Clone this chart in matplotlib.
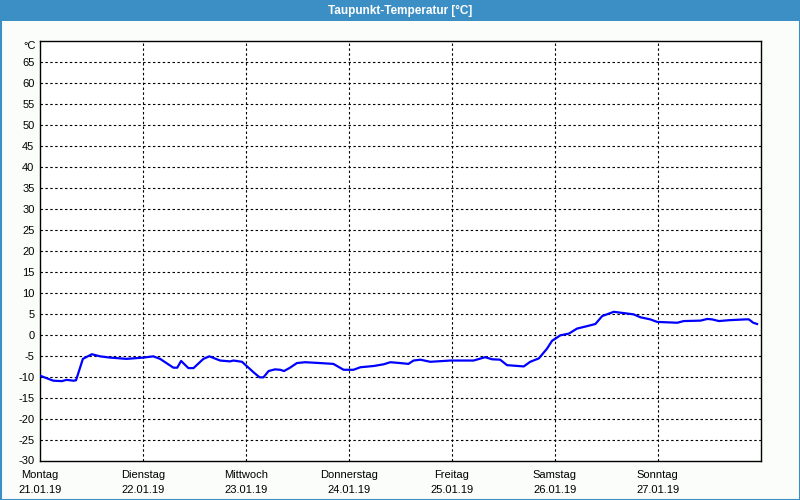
import matplotlib
matplotlib.use("Agg")
import matplotlib.pyplot as plt
from matplotlib.patches import Rectangle

title = "Taupunkt-Temperatur [°C]"
day_names = ["Montag", "Dienstag", "Mittwoch", "Donnerstag", "Freitag", "Samstag", "Sonntag"]
day_dates = ["21.01.19", "22.01.19", "23.01.19", "24.01.19", "25.01.19", "26.01.19", "27.01.19"]

hours = [0, 3.1, 5.1, 6.2, 7.8, 8.4, 10.0, 12.1, 14.0, 16.3, 20.2, 24.1, 26.4, 28.0,
         31.1, 32.0, 32.9, 34.6, 35.8, 38.1, 39.5, 42.0, 44.3, 45.1, 47.1, 49.8, 51.2,
         52.1, 53.3, 54.8, 56.0, 56.9, 58.3, 59.9, 61.8, 65.3, 68.4, 70.8, 73.1, 74.7,
         77.8, 80.1, 81.7, 84.0, 85.9, 87.1, 88.7, 91.0, 95.7, 101.1, 103.8, 105.4,
         107.3, 108.9, 112.8, 114.3, 116.3, 118.2, 119.4, 120.6, 121.3, 123.3, 125.2,
         127.6, 129.5, 131.1, 133.8, 135.3, 138.4, 140.0, 142.3, 143.9, 148.6, 150.1,
         154.0, 155.6, 156.7, 158.3, 160.6, 164.5, 165.3, 166.3, 167.2]
dewpoint = [-9.8, -11.0, -11.1, -10.8, -11.0, -10.9, -5.8, -4.7, -5.2, -5.5, -5.8, -5.5,
            -5.2, -5.8, -7.9, -7.9, -6.3, -8.0, -8.0, -5.8, -5.2, -6.2, -6.4, -6.2, -6.5,
            -9.0, -10.2, -10.2, -8.7, -8.3, -8.4, -8.7, -7.9, -6.8, -6.6, -6.8, -7.0,
            -8.4, -8.4, -7.8, -7.5, -7.1, -6.6, -6.8, -7.0, -6.2, -6.0, -6.5, -6.2, -6.2,
            -5.4, -5.9, -6.0, -7.3, -7.6, -6.5, -5.7, -3.4, -1.5, -0.7, -0.2, 0.2, 1.4,
            2.0, 2.5, 4.4, 5.4, 5.2, 4.8, 4.1, 3.6, 3.0, 2.8, 3.2, 3.3, 3.7, 3.6, 3.2,
            3.4, 3.6, 3.6, 2.8, 2.5]

yticks = list(range(-30, 70, 5))

plt.rcParams['font.family'] = ['Liberation Sans', 'DejaVu Sans']
fig = plt.figure(figsize=(8, 5), dpi=100)
fig.patch.set_facecolor("#fbfdfb")

# title bar and frame
fig.patches.append(Rectangle((0, 1 - 21 / 500), 1, 21 / 500, transform=fig.transFigure,
                             facecolor="#3c8fc5", edgecolor="none", zorder=0))
fig.patches.append(Rectangle((0.5 / 800, 0.5 / 500), 1 - 1 / 800, 1 - 1 / 500,
                             transform=fig.transFigure, facecolor="none",
                             edgecolor="#3c8fc5", linewidth=1.5, zorder=0))
fig.text(0.5, 1 - 10.5 / 500, title, color="white", ha="center", va="center",
         fontsize=8.5, fontweight="bold")

ax = fig.add_axes([40 / 800, 1 - 460.5 / 500, 720.5 / 800, 420 / 500])
ax.set_facecolor("white")
ax.plot(hours, dewpoint, color="#0000ff", linewidth=1.6, zorder=3)

ax.set_xlim(0, 168)
ax.set_ylim(-30, 70)
ax.set_yticks(yticks)
ax.set_yticklabels([str(v) for v in yticks], fontsize=8)
ax.set_xticks([24 * i for i in range(7)])
ax.set_xticklabels([])
ax.tick_params(axis="both", length=0, pad=4)
ax.text(-4 / 720.5, 1 - 5.5 / 420, "°C", transform=ax.transAxes, ha="right",
        va="center", fontsize=8)

xtr = ax.get_xaxis_transform()
for i, (n, d) in enumerate(zip(day_names, day_dates)):
    ax.text(24 * i, -14.5 / 420, n, transform=xtr, ha="center", va="center", fontsize=8)
    ax.text(24 * i, -29.5 / 420, d, transform=xtr, ha="center", va="center", fontsize=8)

for v in yticks[1:]:
    ax.axhline(v, color="black", linewidth=0.8, linestyle=(0, (2.2, 2.2)), zorder=1)
for i in range(1, 7):
    ax.axvline(24 * i, color="black", linewidth=0.8, linestyle=(0, (2.2, 2.2)), zorder=1)
for s in ax.spines.values():
    s.set_linewidth(1.0)
    s.set_color("black")

fig.savefig("out.png", dpi=100, facecolor=fig.get_facecolor())
